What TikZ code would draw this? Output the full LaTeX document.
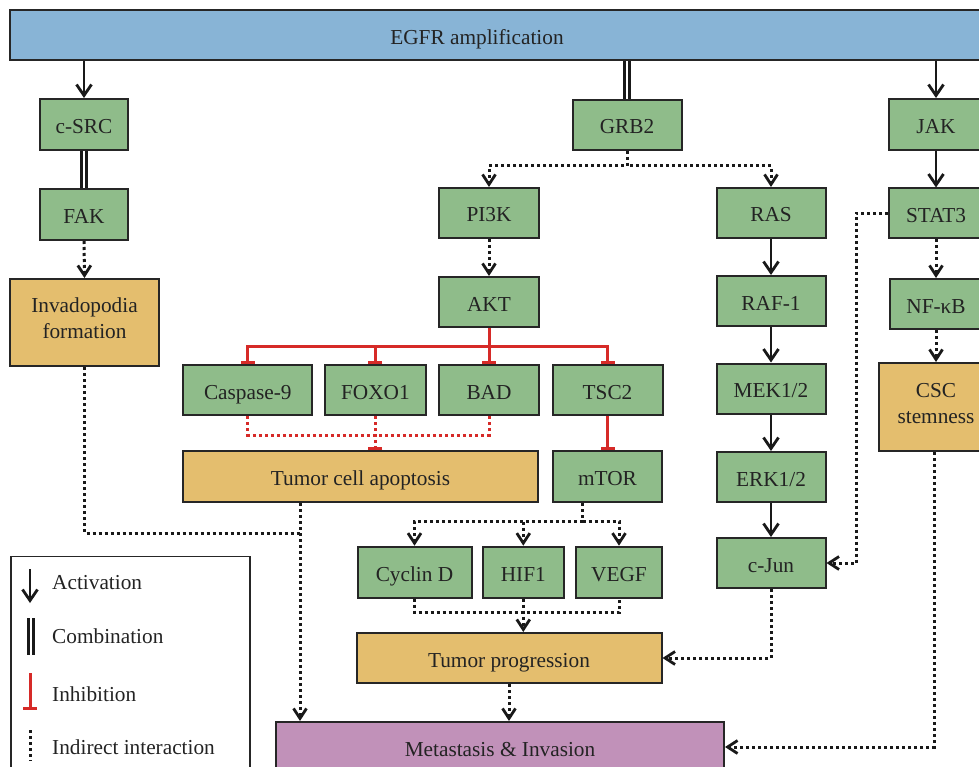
\documentclass[tikz,border=0pt]{standalone}
\usepackage{fontspec}
\setmainfont{Liberation Serif}
\usetikzlibrary{arrows.meta}
\definecolor{egfrblue}{RGB}{136,180,214}
\definecolor{boxgreen}{RGB}{143,188,138}
\definecolor{boxorange}{RGB}{228,190,110}
\definecolor{boxpurple}{RGB}{193,145,185}
\definecolor{inhred}{RGB}{214,42,40}
\definecolor{textdark}{RGB}{35,35,35}
\begin{document}
\begin{tikzpicture}[x=1pt,y=-1pt,
  box/.style={draw=black!85, line width=2pt, inner sep=2pt, align=center,
    font=\fontsize{21.3}{26}\selectfont, text=textdark, anchor=center,
    text height=18pt, text depth=0pt},
  twoline/.style={text height=34pt, text depth=2pt},
  gbox/.style={box, fill=boxgreen},
  obox/.style={box, fill=boxorange},
  act/.style={line width=2.8pt, draw=black!90, -{Straight Barb[length=11pt,width=15pt,line width=2.8pt]}},
  comb/.style={line width=2.8pt, draw=black!90, double=white, double distance=2.4pt},
  indl/.style={line width=3pt, draw=black!90, dash pattern=on 3pt off 3pt},
  ind/.style={indl, -{Straight Barb[length=10pt,width=13pt,line width=2.8pt]}},
  inh/.style={line width=3pt, draw=inhred, -{Bar[width=14pt,line width=3.4pt]}},
  inhl/.style={line width=3pt, draw=inhred, dash pattern=on 3pt off 3pt},
  inhd/.style={inhl, -{Bar[width=14pt,line width=3.4pt]}},
  legtext/.style={font=\fontsize{21.3}{26}\selectfont, text=textdark, anchor=west,
    inner sep=0pt, text height=18pt, text depth=0pt}
]
\useasboundingbox (0,0) rectangle (979,767);
\fill[white] (0,0) rectangle (979,767);

% top bar
\node[box, fill=egfrblue, minimum width=980pt, minimum height=50pt] (egfr) at (500,35.5) {\hspace*{-46pt}EGFR amplification};

% left branch
\node[gbox, minimum width=88pt, minimum height=51pt] (csrc) at (84,124.5) {c-SRC};
\node[gbox, minimum width=88pt, minimum height=51pt] (fak) at (84,214.5) {FAK};
\node[obox, twoline, minimum width=149pt, minimum height=87pt] (inv) at (84.5,322.5) {Invadopodia\\formation};

% GRB2 branch
\node[gbox, minimum width=109pt, minimum height=50pt] (grb2) at (627,125) {GRB2};
\node[gbox, minimum width=100pt, minimum height=50pt] (pi3k) at (489,213) {PI3K};
\node[gbox, minimum width=100pt, minimum height=50pt] (akt) at (489,302) {AKT};
\node[gbox, minimum width=129pt, minimum height=50pt] (casp) at (247.8,390) {Caspase-9};
\node[gbox, minimum width=101pt, minimum height=50pt] (foxo) at (375.4,390) {FOXO1};
\node[gbox, minimum width=100pt, minimum height=50pt] (bad) at (489,390) {BAD};
\node[gbox, minimum width=110pt, minimum height=50pt] (tsc2) at (607.5,390) {TSC2};
\node[obox, minimum width=355pt, minimum height=51pt] (apop) at (360.5,476.5) {Tumor cell apoptosis};
\node[gbox, minimum width=109pt, minimum height=51pt] (mtor) at (607.5,476.5) {mTOR};
\node[gbox, minimum width=114pt, minimum height=51pt] (cyc) at (414.5,572.2) {Cyclin D};
\node[gbox, minimum width=81pt, minimum height=51pt] (hif) at (523.3,572.2) {HIF1};
\node[gbox, minimum width=86pt, minimum height=51pt] (vegf) at (619,572.2) {VEGF};
\node[obox, minimum width=305pt, minimum height=50pt] (tprog) at (509,658) {Tumor progression};
\node[box, fill=boxpurple, minimum width=448pt, minimum height=50pt] (meta) at (500,747) {Metastasis \& Invasion};

% RAS branch
\node[gbox, minimum width=109pt, minimum height=50pt] (ras) at (771,213) {RAS};
\node[gbox, minimum width=109pt, minimum height=50pt] (raf) at (771,301) {RAF-1};
\node[gbox, minimum width=109pt, minimum height=50pt] (mek) at (771,388.5) {MEK1/2};
\node[gbox, minimum width=109pt, minimum height=50pt] (erk) at (771,477) {ERK1/2};
\node[gbox, minimum width=109pt, minimum height=50pt] (cjun) at (771,563) {c-Jun};

% JAK branch
\node[gbox, minimum width=94pt, minimum height=51pt] (jak) at (936,124.5) {JAK};
\node[gbox, minimum width=94pt, minimum height=50pt] (stat3) at (936,213.5) {STAT3};
\node[gbox, minimum width=92pt, minimum height=50pt] (nfkb) at (936,304) {NF-κB};
\node[obox, twoline, minimum width=114pt, minimum height=88pt] (csc) at (936,407) {CSC\\stemness};

% connectors: left
\draw[act] (csrc.north |- egfr.south) -- (csrc.north);
\draw[comb] (csrc.south) -- (fak.north);
\draw[ind] (fak.south) -- (inv.north);
\coordinate (j1) at (300,533);
\draw[indl] (inv.south) |- (j1);
\draw[ind] (apop.south -| j1) -- (j1 |- meta.north);

% GRB2
\draw[comb] (grb2.north |- egfr.south) -- (grb2.north);
\draw[ind] (grb2.south) -- ++(0,15) -| (pi3k.north);
\draw[ind] (grb2.south) -- ++(0,15) -| (ras.north);
\draw[ind] (pi3k.south) -- (akt.north);

% AKT inhibitions
\draw[inh] (akt.south) -- ++(0,18) -| (casp.north);
\draw[inh] (akt.south) -- ++(0,18) -| (foxo.north);
\draw[inh] (akt.south) -- (bad.north);
\draw[inh] (akt.south) -- ++(0,18) -| (tsc2.north);
\draw[inhl] (casp.south) -- ++(0,19) -| (bad.south);
\draw[inhd] (foxo.south) -- (foxo.south |- apop.north);
\draw[inh] (tsc2.south) -- (mtor.north);

% mTOR
\draw[ind] ([xshift=-25pt]mtor.south) -- ++(0,18) -| (cyc.north);
\draw[ind] ([xshift=-25pt]mtor.south) -- ++(0,18) -| (hif.north);
\draw[ind] ([xshift=-25pt]mtor.south) -- ++(0,18) -| (vegf.north);
\draw[indl] (cyc.south) -- ++(0,14) -| (vegf.south);
\draw[ind] (hif.south) -- (hif.south |- tprog.north);
\draw[ind] (tprog.south) -- (tprog.south |- meta.north);

% RAS chain
\draw[act] (ras.south) -- (raf.north);
\draw[act] (raf.south) -- (mek.north);
\draw[act] (mek.south) -- (erk.north);
\draw[act] (erk.south) -- (cjun.north);
\draw[ind] (cjun.south) |- (tprog.east);

% JAK chain
\draw[act] (jak.north |- egfr.south) -- (jak.north);
\draw[act] (jak.south) -- (stat3.north);
\draw[ind] (stat3.south) -- (nfkb.north);
\draw[ind] (nfkb.south) -- (csc.north);
\draw[ind] (stat3.west) -- ++(-32,0) |- (cjun.east);
\draw[ind] ([xshift=-2pt]csc.south) |- (meta.east);

% legend
\node[draw=black!85, line width=1.5pt, minimum width=239pt, minimum height=245pt, anchor=north west, inner sep=0pt] (legend) at (10,555.5) {};
\coordinate (la1) at (30,569); \coordinate (la2) at (30,603);
\draw[act] (la1) -- (la2);
\node[legtext] (lact) at (52,580) {Activation};
\coordinate (lc1) at (31,618); \coordinate (lc2) at (31,655);
\draw[comb] (lc1) -- (lc2);
\node[legtext] (lcomb) at (52,634.5) {Combination};
\coordinate (li1) at (30,673); \coordinate (li2) at (30,710);
\draw[inh] (li1) -- (li2);
\node[legtext] (linh) at (52,692) {Inhibition};
\coordinate (ld1) at (30,730); \coordinate (ld2) at (30,761);
\draw[indl] (ld1) -- (ld2);
\node[legtext] (lind) at (52,745) {Indirect interaction};
\end{tikzpicture}
\end{document}
